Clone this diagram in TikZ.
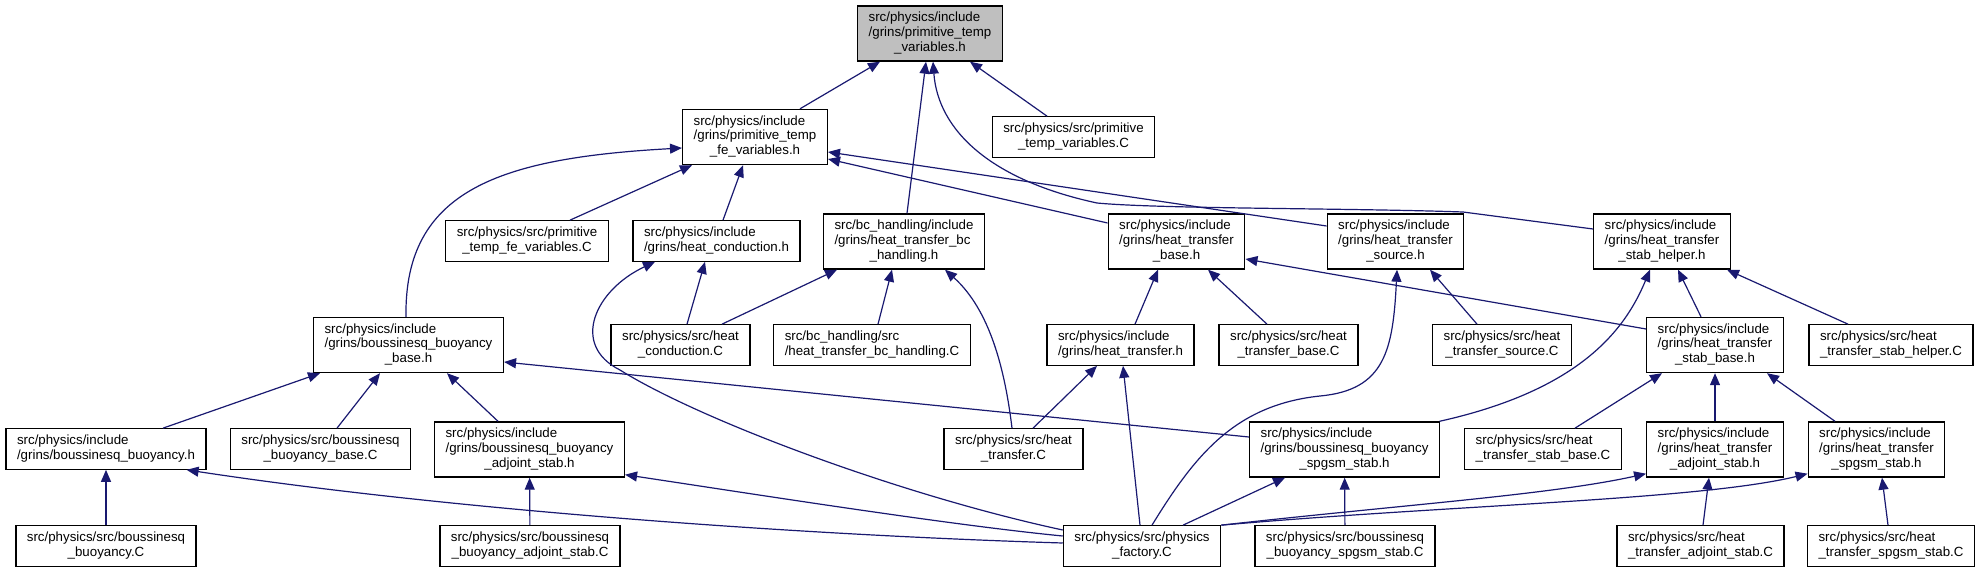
\documentclass[tikz,border=0pt]{standalone}
\usepackage{fontspec}
\setmainfont{Liberation Sans}
\usepackage{tikz}
\usetikzlibrary{arrows.meta}
\definecolor{edgeblue}{HTML}{191970}
\definecolor{rootgray}{HTML}{BFBFBF}
\newcommand{\flbl}[2]{\begin{tabular}{@{}l@{}}#1\\\multicolumn{1}{@{}c@{}}{#2}\end{tabular}}

\begin{document}
\begin{tikzpicture}[x=1pt, y=-1pt,
  file/.style={draw=black, line width=1.3pt, fill=white, inner xsep=11pt, inner ysep=5.5pt,
    font=\fontsize{13.3}{14.7}\selectfont},
  dep/.style={draw=edgeblue, line width=1.2pt, -{Triangle[length=12pt,width=10pt]}}]
  \useasboundingbox (0,0) rectangle (1980,572);

  % Root header
  \node[file, fill=rootgray] (rt) at (930,33.5) {\flbl{src/physics/include\\/grins/primitive\_temp}{\_variables.h}};

  % Row 1
  \node[file] (fe) at (755,137) {\flbl{src/physics/include\\/grins/primitive\_temp}{\_fe\_variables.h}};
  \node[file] (ptvC) at (1073.5,137) {\flbl{src/physics/src/primitive}{\_temp\_variables.C}};

  % Row 2
  \node[file] (ptfeC) at (527,241) {\flbl{src/physics/src/primitive}{\_temp\_fe\_variables.C}};
  \node[file] (hcond) at (716.5,241) {\flbl{src/physics/include}{/grins/heat\_conduction.h}};
  \node[file] (bch) at (904,241.5) {\flbl{src/bc\_handling/include\\/grins/heat\_transfer\_bc}{\_handling.h}};
  \node[file] (htb) at (1176.5,241.5) {\flbl{src/physics/include\\/grins/heat\_transfer}{\_base.h}};
  \node[file] (hsrc) at (1395.5,241.5) {\flbl{src/physics/include\\/grins/heat\_transfer}{\_source.h}};
  \node[file] (hsh) at (1662,241.5) {\flbl{src/physics/include\\/grins/heat\_transfer}{\_stab\_helper.h}};

  % Row 3
  \node[file] (bbb) at (408.5,345) {\flbl{src/physics/include\\/grins/boussinesq\_buoyancy}{\_base.h}};
  \node[file] (hcC) at (680.5,345) {\flbl{src/physics/src/heat}{\_conduction.C}};
  \node[file] (bchC) at (872,345) {\flbl{src/bc\_handling/src}{/heat\_transfer\_bc\_handling.C}};
  \node[file] (htr) at (1120.5,345) {\flbl{src/physics/include}{/grins/heat\_transfer.h}};
  \node[file] (htbC) at (1288.5,345) {\flbl{src/physics/src/heat}{\_transfer\_base.C}};
  \node[file] (hsrcC) at (1502,345) {\flbl{src/physics/src/heat}{\_transfer\_source.C}};
  \node[file] (hsb) at (1715,345) {\flbl{src/physics/include\\/grins/heat\_transfer}{\_stab\_base.h}};
  \node[file] (hshC) at (1891,345) {\flbl{src/physics/src/heat}{\_transfer\_stab\_helper.C}};

  % Row 4
  \node[file] (bb) at (106,449) {\flbl{src/physics/include}{/grins/boussinesq\_buoyancy.h}};
  \node[file] (bbbC) at (320.5,449) {\flbl{src/physics/src/boussinesq}{\_buoyancy\_base.C}};
  \node[file] (bbas) at (529.5,449.5) {\flbl{src/physics/include\\/grins/boussinesq\_buoyancy}{\_adjoint\_stab.h}};
  \node[file] (htrC) at (1013.5,449) {\flbl{src/physics/src/heat}{\_transfer.C}};
  \node[file] (bbss) at (1344.5,449.5) {\flbl{src/physics/include\\/grins/boussinesq\_buoyancy}{\_spgsm\_stab.h}};
  \node[file] (hsbC) at (1543,449) {\flbl{src/physics/src/heat}{\_transfer\_stab\_base.C}};
  \node[file] (htas) at (1715,449.5) {\flbl{src/physics/include\\/grins/heat\_transfer}{\_adjoint\_stab.h}};
  \node[file] (htss) at (1876.5,449.5) {\flbl{src/physics/include\\/grins/heat\_transfer}{\_spgsm\_stab.h}};

  % Row 5
  \node[file] (bbC) at (106,546) {\flbl{src/physics/src/boussinesq}{\_buoyancy.C}};
  \node[file] (bbasC) at (530,546) {\flbl{src/physics/src/boussinesq}{\_buoyancy\_adjoint\_stab.C}};
  \node[file] (pfC) at (1142,546) {\flbl{src/physics/src/physics}{\_factory.C}};
  \node[file] (bbssC) at (1345,546) {\flbl{src/physics/src/boussinesq}{\_buoyancy\_spgsm\_stab.C}};
  \node[file] (htasC) at (1700.5,546) {\flbl{src/physics/src/heat}{\_transfer\_adjoint\_stab.C}};
  \node[file] (htssC) at (1891,546) {\flbl{src/physics/src/heat}{\_transfer\_spgsm\_stab.C}};

  % Includes of the root header
  \draw[dep] ([xshift=45pt]fe.north) -- ([xshift=-50pt]rt.south);
  \draw[dep] ([xshift=3pt]bch.north) -- ([xshift=-4pt]rt.south);
  \draw[dep] ([xshift=-26.5pt]ptvC.north) -- ([xshift=40pt]rt.south);
  \draw[dep] ([yshift=12.5pt]hsh.west) -- (1463,212) .. controls (1350,208) and (1160,209) .. (1097,203)
    .. controls (990,180) and (938,130) .. ([xshift=3pt]rt.south);

  % Includes of the fe variables header
  \draw[dep] ([xshift=43pt]ptfeC.north) -- ([xshift=-63pt]fe.south);
  \draw[dep] ([xshift=6.5pt]hcond.north) -- ([xshift=-12pt]fe.south);
  \draw[dep] ([xshift=-2.5pt]bbb.north) .. controls (404,190) and (500,158) .. ([yshift=-11pt]fe.west);
  \draw[dep] ([yshift=18.5pt]htb.west) -- ([yshift=-22pt]fe.east);
  \draw[dep] ([yshift=15.5pt]hsrc.west) -- ([yshift=-15pt]fe.east);

  % Heat conduction and bc handling
  \draw[dep] ([xshift=6.5pt]hcC.north) -- ([xshift=-11.5pt]hcond.south);
  \draw[dep] ([xshift=41.5pt]hcC.north) -- ([xshift=-67pt]bch.south);
  \draw[dep] ([xshift=6pt]bchC.north) -- ([xshift=-12pt]bch.south);
  \draw[dep] ([xshift=-1.5pt]htrC.north) .. controls (1005,370) and (990,310) .. ([xshift=41pt]bch.south);
  \draw[dep] ([yshift=16pt]pfC.west) .. controls (900,495) and (700,420) .. (620,370)
    .. controls (570,345) and (595,290) .. ([xshift=-61.5pt]hcond.south);

  % Heat transfer base and source
  \draw[dep] ([xshift=14.5pt]htr.north) -- ([xshift=-18.5pt]htb.south);
  \draw[dep] ([xshift=-21.5pt]htbC.north) -- ([xshift=31.5pt]htb.south);
  \draw[dep] ([yshift=16pt]hsb.west) -- ([yshift=-17.5pt]htb.east);
  \draw[dep] ([xshift=10pt]pfC.north) .. controls (1195,455) and (1235,405) .. (1320,396)
    .. controls (1385,390) and (1393,350) .. ([xshift=1.5pt]hsrc.south);
  \draw[dep] ([xshift=-25pt]hsrcC.north) -- ([xshift=34.5pt]hsrc.south);

  % Stab helper
  \draw[dep] ([xshift=95pt]bbss.north) .. controls (1580,390) and (1625,330) .. ([xshift=-12pt]hsh.south);
  \draw[dep] ([xshift=-14pt]hsb.north) -- ([xshift=16pt]hsh.south);
  \draw[dep] ([xshift=-43pt]hshC.north) -- ([xshift=65pt]hsh.south);

  % Boussinesq buoyancy
  \draw[dep] ([xshift=57pt]bb.north) -- ([xshift=-88.5pt]bbb.south);
  \draw[dep] ([xshift=16.5pt]bbbC.north) -- ([xshift=-28.5pt]bbb.south);
  \draw[dep] ([xshift=-31.5pt]bbas.north) -- ([xshift=38.5pt]bbb.south);
  \draw[dep] ([yshift=12.5pt]bbss.west) -- ([yshift=-17pt]bbb.east);
  \draw[dep] (bbC) -- (bb);
  \draw[dep] (bbasC) -- (bbas);
  \draw[dep] (bbssC) -- (bbss);
  \draw[dep] ([yshift=10pt]pfC.west) .. controls (950,525) and (760,495) .. ([yshift=3pt]bbas.south east);
  \draw[dep] ([yshift=3pt]pfC.west) .. controls (800,535) and (450,510) .. ([xshift=-20pt]bb.south east);

  % Heat transfer
  \draw[dep] ([xshift=19.5pt]htrC.north) -- ([xshift=-23.5pt]htr.south);
  \draw[dep] ([xshift=-2pt]pfC.north) -- ([xshift=2.5pt]htr.south);
  \draw[dep] ([xshift=41pt]pfC.north) -- ([xshift=-59.5pt]bbss.south);

  % Stab base and stabilized variants
  \draw[dep] (pfC.north east) .. controls (1400,505) and (1550,495) .. ([yshift=4pt]htas.south west);
  \draw[dep] (pfC.north east) .. controls (1450,505) and (1700,500) .. ([yshift=4pt]htss.south west);
  \draw[dep] ([xshift=2.5pt]htasC.north) -- ([xshift=-6pt]htas.south);
  \draw[dep] ([xshift=-3pt]htssC.north) -- ([xshift=5.5pt]htss.south);
  \draw[dep] ([xshift=32pt]hsbC.north) -- ([xshift=-53pt]hsb.south);
  \draw[dep] (htas) -- (hsb);
  \draw[dep] ([xshift=-41.5pt]htss.north) -- ([xshift=52pt]hsb.south);
\end{tikzpicture}
\end{document}
